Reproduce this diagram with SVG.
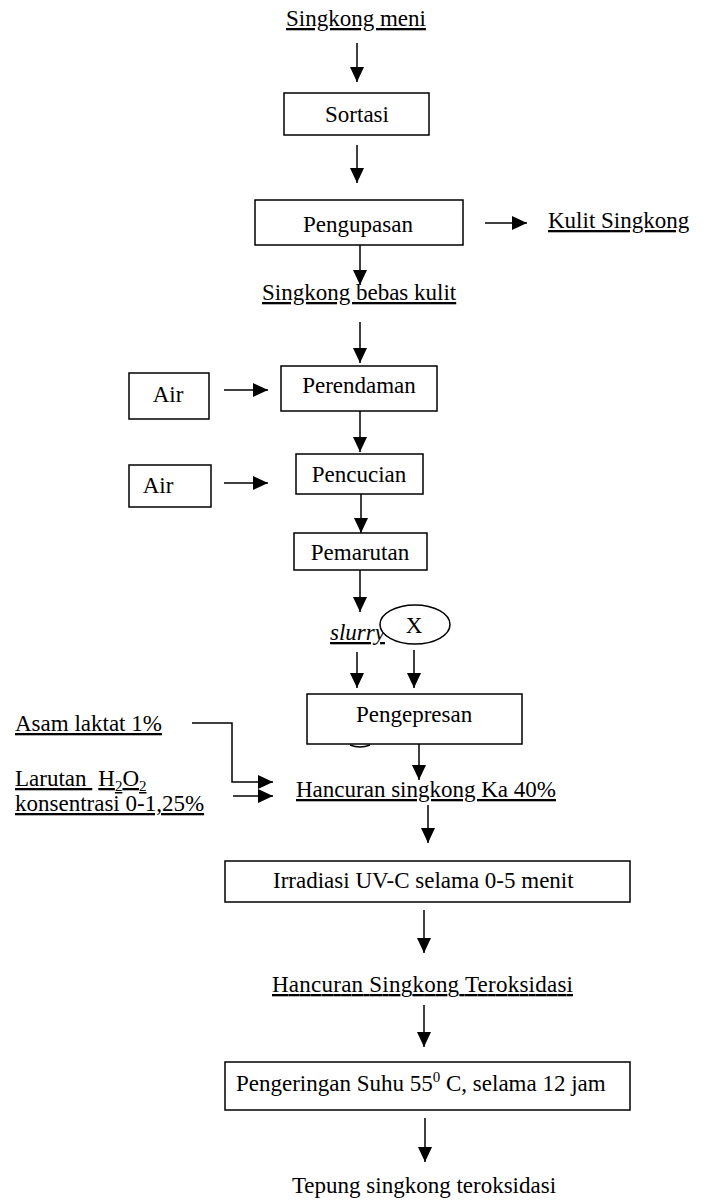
<svg xmlns="http://www.w3.org/2000/svg" width="709" height="1200" viewBox="0 0 709 1200">
<defs>
<marker id="ah" markerUnits="userSpaceOnUse" markerWidth="16" markerHeight="16" refX="15" refY="7" orient="auto">
<path d="M0,0 L15,7 L0,14 z" fill="#000"/>
</marker>
<style>
text{font-family:"Liberation Serif","Times New Roman",serif;font-size:23px;fill:#000}
.u{text-decoration:underline}
.c{text-anchor:middle}
.box{fill:#fff;stroke:#000;stroke-width:1.5}
.ln{fill:none;stroke:#000;stroke-width:1.5}
.ar{fill:none;stroke:#000;stroke-width:1.5;marker-end:url(#ah)}
</style>
</defs>
<rect width="709" height="1200" fill="#fff"/>
<g id="connectors">
<line class="ar" x1="357" y1="43" x2="357" y2="82"/>
<line class="ar" x1="357" y1="145" x2="357" y2="183"/>
<line class="ar" x1="485" y1="223" x2="527" y2="223"/>
<line class="ar" x1="360" y1="245" x2="360" y2="285"/>
<line class="ar" x1="360" y1="322" x2="360" y2="363"/>
<line class="ar" x1="224" y1="390" x2="268" y2="390"/>
<line class="ar" x1="360" y1="411" x2="360" y2="452"/>
<line class="ar" x1="224" y1="483" x2="268" y2="483"/>
<line class="ar" x1="361" y1="494" x2="361" y2="533"/>
<line class="ar" x1="360" y1="570" x2="360" y2="612"/>
<line class="ar" x1="357" y1="652" x2="357" y2="688"/>
<line class="ar" x1="414" y1="650" x2="414" y2="688"/>
<polyline class="ar" points="192,723 232,723 232,782 273,782"/>
<line class="ar" x1="233" y1="796" x2="273" y2="796"/>
<line class="ar" x1="419" y1="744" x2="419" y2="780"/>
<line class="ar" x1="428" y1="805" x2="428" y2="843"/>
<line class="ar" x1="424" y1="910" x2="424" y2="953"/>
<line class="ar" x1="424" y1="1005" x2="424" y2="1047"/>
<line class="ar" x1="425" y1="1118" x2="425" y2="1162"/>
</g>
<g id="singkong-meni"><text class="u c" x="356" y="26">Singkong meni</text></g>
<g id="sortasi"><rect class="box" x="284" y="93" width="145" height="42"/><text class="c" x="357" y="122">Sortasi</text></g>
<g id="pengupasan"><rect class="box" x="255" y="200" width="208" height="45"/><text class="c" x="358" y="232">Pengupasan</text></g>
<g id="kulit-singkong"><text class="u" x="548" y="228">Kulit Singkong</text></g>
<g id="singkong-bebas-kulit"><text class="u" x="262" y="300">Singkong bebas kulit</text></g>
<g id="perendaman"><rect class="box" x="281" y="366" width="156" height="45"/><text class="c" x="359" y="393">Perendaman</text></g>
<g id="air1"><rect class="box" x="129" y="373" width="80" height="46"/><text class="c" x="168" y="402">Air</text></g>
<g id="pencucian"><rect class="box" x="296" y="454" width="127" height="40"/><text class="c" x="359" y="482">Pencucian</text></g>
<g id="air2"><rect class="box" x="129" y="465" width="82" height="42"/><text class="c" x="158" y="493">Air</text></g>
<g id="pemarutan"><rect class="box" x="294" y="533" width="133" height="37"/><text class="c" x="360" y="560">Pemarutan</text></g>
<g id="slurry"><text class="u" x="330" y="640" font-style="italic">slurry</text></g>
<g id="x"><ellipse class="box" cx="415" cy="624.5" rx="35" ry="19.5"/><text class="c" x="414" y="633">X</text></g>
<g id="pengepresan"><rect class="box" x="307" y="694" width="215" height="50"/><text x="356" y="722">Pengepresan</text><path class="ln" d="M350,745 Q360,749 370,745"/></g>
<g id="asam-laktat"><text class="u" x="15" y="731">Asam laktat 1%</text></g>
<g id="larutan"><text class="u" x="15" y="786">Larutan <tspan dx="6">H</tspan><tspan font-size="15" dy="5">2</tspan><tspan dy="-5">O</tspan><tspan font-size="15" dy="5">2</tspan></text><text class="u" x="15" y="811">konsentrasi 0-1,25%</text></g>
<g id="hancuran"><text class="u" x="296" y="797">Hancuran singkong Ka 40%</text></g>
<g id="irradiasi"><rect class="box" x="225" y="861" width="405" height="41"/><text x="273" y="888">Irradiasi UV-C selama 0-5 menit</text></g>
<g id="hancuran-teroksidasi"><text class="u" x="272" y="992" textLength="301">Hancuran Singkong Teroksidasi</text></g>
<g id="pengeringan"><rect class="box" x="225" y="1062" width="405" height="48"/><text x="236" y="1091">Pengeringan Suhu 55<tspan font-size="15" dy="-9">0</tspan><tspan dy="9"> C, selama 12 jam</tspan></text></g>
<g id="tepung"><text class="c" x="424" y="1193">Tepung singkong teroksidasi</text></g>
</svg>
